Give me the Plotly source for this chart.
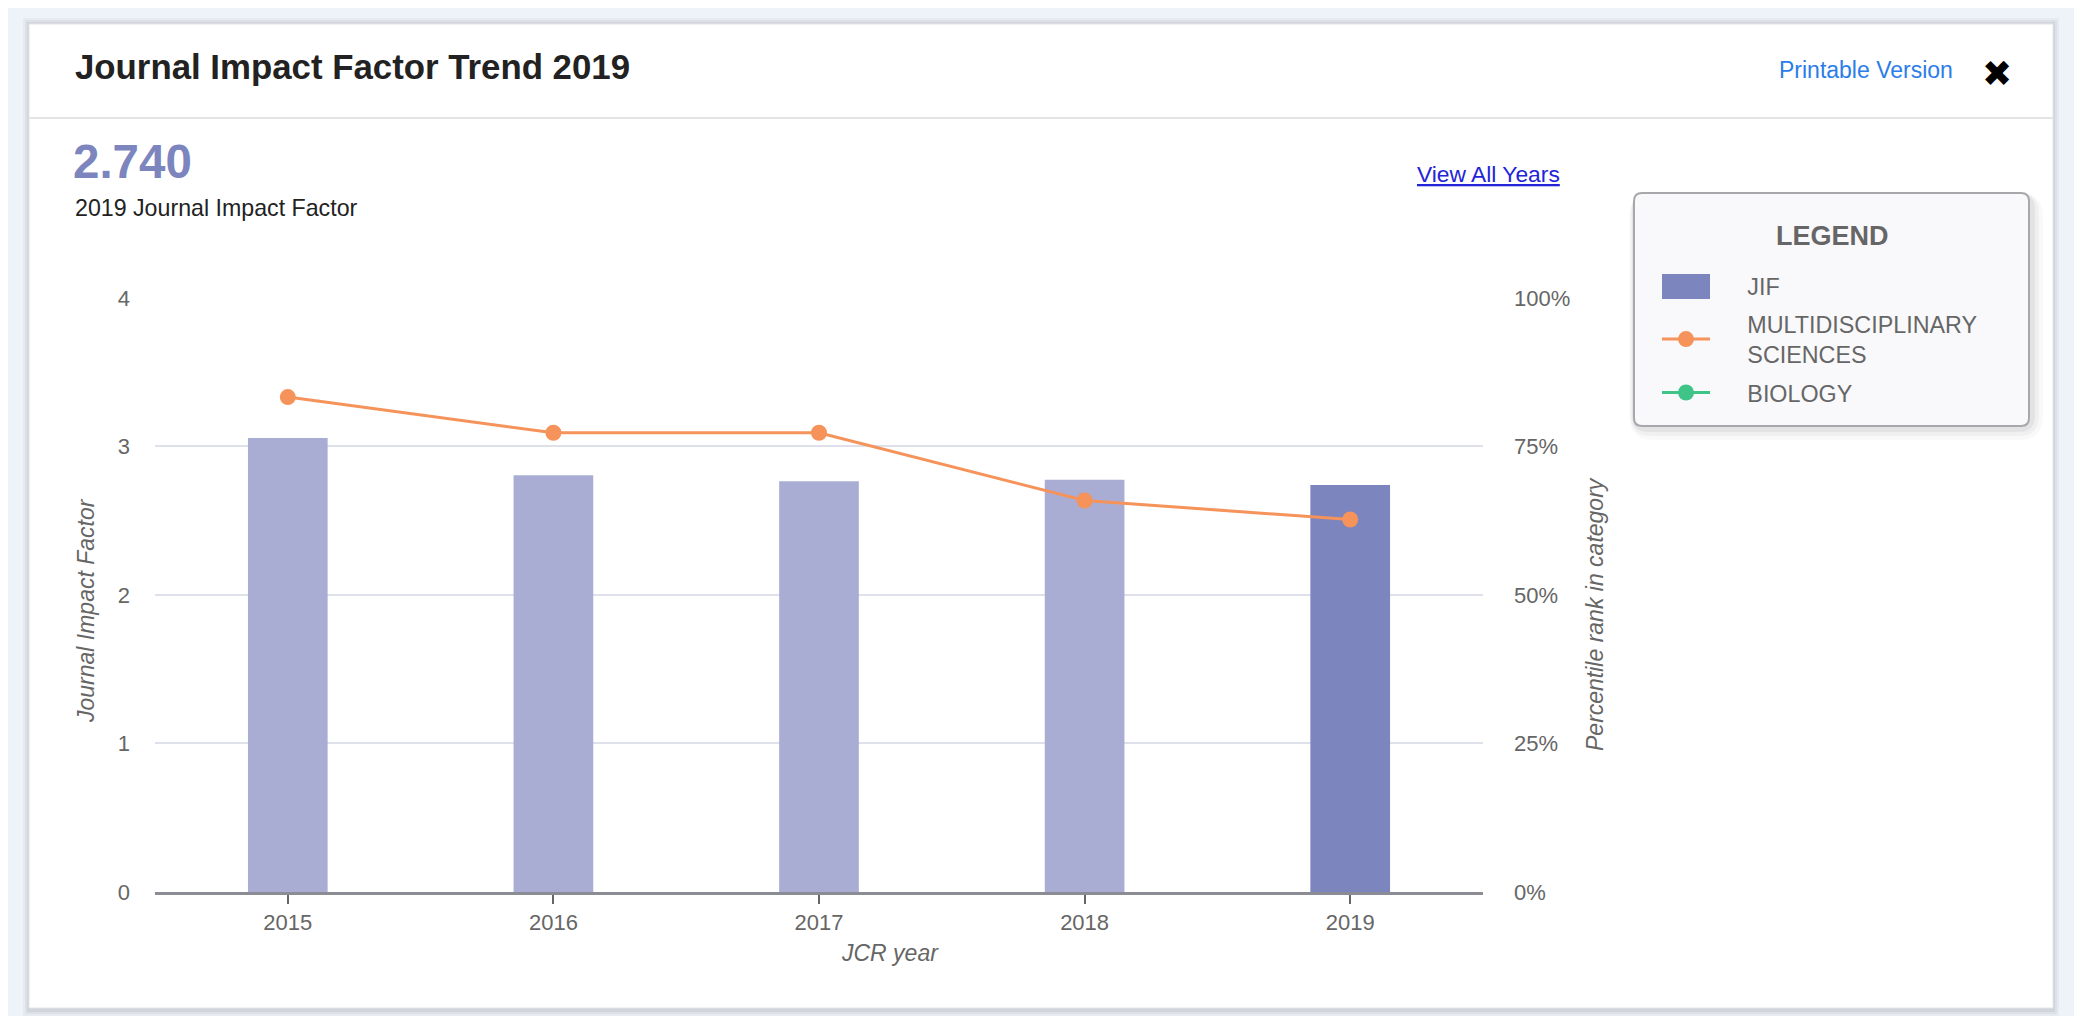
import plotly.graph_objects as go

# ---- data ----
years = ["2015", "2016", "2017", "2018", "2019"]
jif = [3.057, 2.806, 2.766, 2.776, 2.740]
pct_multidisciplinary = [83.3, 77.3, 77.3, 65.9, 62.7]
pct_biology = [None, None, None, None, None]
left_ticks = [0, 1, 2, 3, 4]
right_ticks = [0, 25, 50, 75, 100]
right_ticklabels = ["0%", "25%", "50%", "75%", "100%"]

W, H = 2082, 1016
OFF = 8  # page body margin
L, R, T, B = 155, 1483, 297, 892   # plot area in screen pixels

def px(x):
    return (x - L) / (R - L)

def py(y):
    return (B - y) / (B - T)

FONT = "Arial, Liberation Sans, Helvetica, sans-serif"
GRAY = "#666666"
BAR_LIGHT = "#a9add4"
BAR_DARK = "#7c85bd"
ORANGE = "#f5935a"
GREEN = "#3fc488"
PAD = "\u00a0" * 5

fig = go.Figure()

fig.add_trace(go.Bar(
    x=years[:-1], y=jif[:-1], name=PAD + "JIF", legendgroup="jif",
    showlegend=False, marker=dict(color=BAR_LIGHT, line=dict(width=0)),
    width=0.3))
fig.add_trace(go.Bar(
    x=years[-1:], y=jif[-1:], name=PAD + "JIF", legendgroup="jif",
    marker=dict(color=BAR_DARK, line=dict(width=0)),
    width=0.3))
fig.add_trace(go.Scatter(
    x=years, y=pct_multidisciplinary,
    name=PAD + "MULTIDISCIPLINARY<br>" + PAD + "SCIENCES",
    legendgroup="multi", yaxis="y2", mode="lines+markers",
    line=dict(color=ORANGE, width=3), marker=dict(color=ORANGE, size=16)))
fig.add_trace(go.Scatter(
    x=years, y=pct_biology, name=PAD + "BIOLOGY", legendgroup="bio",
    yaxis="y2", mode="lines+markers",
    line=dict(color=GREEN, width=3), marker=dict(color=GREEN, size=16)))

shapes = []
# card shadow + card
for i, a in enumerate([0.03, 0.04, 0.05]):
    d = 6 - 2 * i
    shapes.append(dict(type="rect", xref="paper", yref="paper", layer="below",
                       x0=px(29 - d), x1=px(2053 + d), y0=py(1010 + d), y1=py(24 - d),
                       line=dict(width=0), fillcolor=f"rgba(0,0,0,{a})"))
shapes.append(dict(type="rect", xref="paper", yref="paper", layer="below",
                   x0=px(29), x1=px(2053), y0=py(1008), y1=py(24),
                   line=dict(color="#e2e4e8", width=1), fillcolor="white"))
# header separator
shapes.append(dict(type="line", xref="paper", yref="paper", layer="below",
                   x0=px(29), x1=px(2053), y0=py(118), y1=py(118),
                   line=dict(color="#e4e4e4", width=2)))

# legend box (rounded) with soft shadow
def rounded(x0, y0, x1, y1, r):
    X0, X1 = px(x0), px(x1)
    Y0, Y1 = py(y0), py(y1)
    rx = r / (R - L)
    ry = r / (B - T)
    return (f"M {X0+rx},{Y0} L {X1-rx},{Y0} Q {X1},{Y0} {X1},{Y0-ry} "
            f"L {X1},{Y1+ry} Q {X1},{Y1} {X1-rx},{Y1} L {X0+rx},{Y1} "
            f"Q {X0},{Y1} {X0},{Y1+ry} L {X0},{Y0-ry} Q {X0},{Y0} {X0+rx},{Y0} Z")

for i, a in enumerate([0.025, 0.035, 0.05]):
    d = 14 - 4 * i
    shapes.append(dict(type="path", xref="paper", yref="paper", layer="below",
                       path=rounded(1634 - d / 3, 193, 2029 + d, 426 + d, 10 + d),
                       line=dict(width=0), fillcolor=f"rgba(0,0,0,{a})"))
shapes.append(dict(type="path", xref="paper", yref="paper", layer="below",
                   path=rounded(1634, 193, 2029, 426, 8),
                   line=dict(color="#a8a8ac", width=2), fillcolor="#f9f9fb"))
# wide JIF swatch behind the legend's bar icon
shapes.append(dict(type="rect", xref="paper", yref="paper", layer="above",
                   x0=px(1662), x1=px(1710), y0=py(299), y1=py(274),
                   line=dict(width=0), fillcolor=BAR_DARK))

annotations = [
    dict(text="<b>Journal Impact Factor Trend 2019</b>", x=px(73), y=py(66),
         xanchor="left", yanchor="middle", font=dict(size=34.8, color="#222222", family=FONT)),
    dict(text="Printable Version", x=px(1777), y=py(70), xanchor="left", yanchor="middle",
         font=dict(size=23, color="#2b7de9", family=FONT)),
    dict(text="✖", x=px(1997), y=py(73), xanchor="center", yanchor="middle",
         font=dict(size=36, color="#000000", family="DejaVu Sans")),
    dict(text="<b>2.740</b>", x=px(71), y=py(162), xanchor="left", yanchor="middle",
         font=dict(size=47.5, color=BAR_DARK, family=FONT)),
    dict(text="2019 Journal Impact Factor", x=px(73), y=py(208), xanchor="left", yanchor="middle",
         font=dict(size=23.2, color="#222222", family=FONT)),
    dict(text="<u>View All Years</u>", x=px(1415), y=py(174), xanchor="left", yanchor="middle",
         font=dict(size=22.8, color="#2323d8", family=FONT)),
    dict(text="<b>LEGEND</b>", x=px(1832), y=py(236), xanchor="center", yanchor="middle",
         font=dict(size=27, color=GRAY, family=FONT)),
    dict(text="<i>Journal Impact Factor</i>", x=px(86), y=py(611), textangle=-90,
         xanchor="center", yanchor="middle", font=dict(size=23, color=GRAY, family=FONT)),
    dict(text="<i>Percentile rank in category</i>", x=px(1595), y=py(614), textangle=-90,
         xanchor="center", yanchor="middle", font=dict(size=23, color=GRAY, family=FONT)),
    dict(text="<i>JCR year</i>", x=px(890), y=py(953), xanchor="center", yanchor="middle",
         font=dict(size=23, color=GRAY, family=FONT)),
]
for a in annotations:
    a.update(xref="paper", yref="paper", showarrow=False)

fig.update_layout(
    width=W, height=H,
    margin=dict(l=L - OFF, r=W - R + OFF, t=T - OFF, b=H - B + OFF, pad=0),
    paper_bgcolor="#eef3f9",
    plot_bgcolor="rgba(0,0,0,0)",
    barmode="overlay",
    font=dict(family=FONT, color=GRAY, size=22),
    showlegend=True,
    legend=dict(x=px(1657), y=py(264), xanchor="left", yanchor="top",
                bgcolor="rgba(0,0,0,0)", borderwidth=0,
                font=dict(size=23.3, color=GRAY, family=FONT),
                itemwidth=48, tracegroupgap=5, traceorder="grouped"),
    xaxis=dict(type="category", range=[-0.5, 4.5], showgrid=False,
               showline=True, linecolor="#8c8c94", linewidth=3,
               ticks="outside", ticklen=9, tickwidth=2, tickcolor="#666666",
               tickfont=dict(size=22, color=GRAY), ticklabelstandoff=0, zeroline=False),
    yaxis=dict(range=[0, 4.006], tickvals=left_ticks, showgrid=True, gridcolor="#dfe1ea",
               gridwidth=1.5, zeroline=False, showline=False,
               tickfont=dict(size=22, color=GRAY), ticklabelstandoff=24),
    yaxis2=dict(range=[0, 100.15], tickvals=right_ticks, ticktext=right_ticklabels,
                overlaying="y", side="right", showgrid=False, zeroline=False,
                showline=False, tickfont=dict(size=22, color=GRAY), ticklabelstandoff=30),
    shapes=shapes,
    annotations=annotations,
)

fig.write_html("out.html")
